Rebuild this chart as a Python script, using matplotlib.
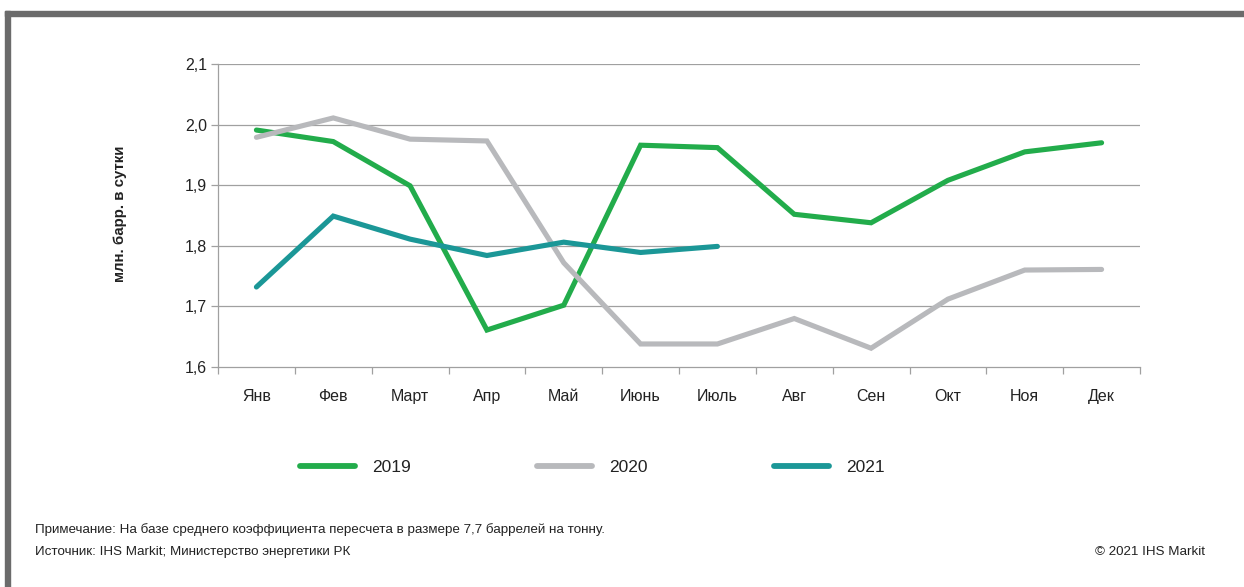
import matplotlib
matplotlib.use("Agg")
import matplotlib.pyplot as plt
from matplotlib.patches import Rectangle
from matplotlib.lines import Line2D

plt.rcParams['font.family'] = ['Liberation Sans', 'DejaVu Sans']

months = ["Янв", "Фев", "Март", "Апр", "Май", "Июнь", "Июль",
          "Авг", "Сен", "Окт", "Ноя", "Дек"]
y2019 = [1.991, 1.972, 1.899, 1.661, 1.702, 1.966, 1.962,
         1.852, 1.838, 1.908, 1.955, 1.970]
y2020 = [1.979, 2.011, 1.976, 1.973, 1.772, 1.638, 1.638,
         1.680, 1.631, 1.712, 1.760, 1.761]
y2021 = [1.732, 1.849, 1.811, 1.784, 1.806, 1.789, 1.799]
series_names = ["2019", "2020", "2021"]
yticks = [1.6, 1.7, 1.8, 1.9, 2.0, 2.1]

c2019 = "#22ac4b"
c2020 = "#b8b9bc"
c2021 = "#1b9797"
grid_c = "#a0a0a0"
text_c = "#222222"

W, H = 1244, 587
fig = plt.figure(figsize=(W / 100, H / 100), dpi=100)

# outer frame: thick grey bar along the top and left edges
frame_c = "#6b6b6b"
fig.patches.append(Rectangle((5 / W, 1 - 16 / H), 1 - 5 / W, 5 / H,
                             transform=fig.transFigure, color=frame_c, zorder=0))
fig.patches.append(Rectangle((5 / W, 0), 5 / W, 1 - 11 / H,
                             transform=fig.transFigure, color=frame_c, zorder=0))

ax = fig.add_axes([218 / W, (H - 367) / H, (1140 - 218) / W, (367 - 64) / H])

x = list(range(len(months)))
lw = 3.7
ax.plot(x, y2019, color=c2019, lw=lw, solid_capstyle='round', solid_joinstyle='miter', zorder=3)
ax.plot(x, y2020, color=c2020, lw=lw, solid_capstyle='round', solid_joinstyle='miter', zorder=4)
ax.plot(x[:len(y2021)], y2021, color=c2021, lw=lw, solid_capstyle='round',
        solid_joinstyle='miter', zorder=5)

ax.set_xlim(-0.5, len(months) - 0.5)
ax.set_ylim(1.6, 2.1)
ax.set_yticks(yticks)
ax.set_yticklabels([f"{v:.1f}".replace(".", ",") for v in yticks])
for v in yticks[1:]:
    ax.axhline(v, color=grid_c, lw=0.9, zorder=1)

ax.set_xticks(x)
ax.set_xticklabels(months)
ax.set_xticks([i - 0.5 for i in range(len(months) + 1)], minor=True)
ax.tick_params(axis='x', which='major', length=0, pad=16, labelsize=11.5, labelcolor=text_c)
ax.tick_params(axis='x', which='minor', length=5, width=0.9, color=grid_c, direction='out')
ax.tick_params(axis='y', length=5, width=0.9, color=grid_c, pad=3,
               labelsize=11.5, labelcolor=text_c)

for side in ("top", "right"):
    ax.spines[side].set_visible(False)
for side in ("left", "bottom"):
    ax.spines[side].set_color(grid_c)
    ax.spines[side].set_linewidth(0.9)

fig.text(120 / W, (H - 214) / H, "млн. барр. в сутки", rotation=90,
         ha='center', va='center', fontsize=10.8, fontweight='bold', color=text_c)

handles = [Line2D([], [], color=c, lw=4.2, solid_capstyle='round')
           for c in (c2019, c2020, c2021)]
fig.legend(handles, series_names, loc='center left',
           bbox_to_anchor=(300 / W, (H - 467) / H), ncol=3, frameon=False,
           borderpad=0, borderaxespad=0, handlelength=3.15, handletextpad=0.98,
           columnspacing=7.3, fontsize=12.5, labelcolor=text_c)

fig.text(35 / W, (H - 530) / H,
         "Примечание: На базе среднего коэффициента пересчета в размере 7,7 баррелей на тонну.",
         ha='left', va='center', fontsize=9.6, color=text_c)
fig.text(35 / W, (H - 552) / H, "Источник: IHS Markit; Министерство энергетики РК",
         ha='left', va='center', fontsize=9.6, color=text_c)
fig.text(1205 / W, (H - 552) / H, "© 2021 IHS Markit",
         ha='right', va='center', fontsize=9.6, color=text_c)

fig.savefig("out.png", dpi=100)
